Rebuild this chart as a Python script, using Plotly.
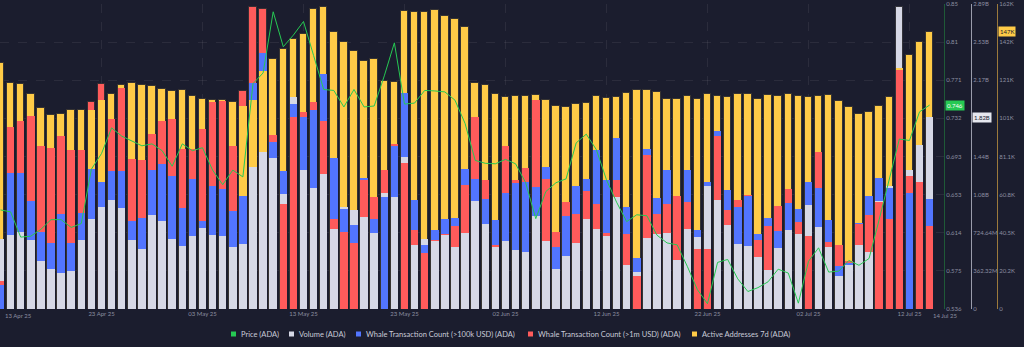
import pandas as pd
import numpy as np
import plotly.graph_objects as go

# ---------------- data ----------------
dates = pd.date_range("2025-04-13", "2025-07-14", freq="D")

price = [0.638, 0.636, 0.610, 0.611, 0.618, 0.628, 0.628, 0.620, 0.624, 0.680,
         0.696, 0.7225, 0.714, 0.709, 0.704, 0.706, 0.699, 0.683, 0.706, 0.699,
         0.702, 0.679, 0.664, 0.679, 0.672, 0.768, 0.779, 0.842, 0.806, 0.818,
         0.832, 0.797, 0.762, 0.761, 0.744, 0.762, 0.744, 0.745, 0.776, 0.810,
         0.747, 0.748, 0.761, 0.7605, 0.7595, 0.751, 0.727, 0.689, 0.686, 0.6855,
         0.690, 0.6855, 0.666, 0.629, 0.657, 0.666, 0.670, 0.707, 0.716, 0.700,
         0.669, 0.646, 0.626, 0.633, 0.632, 0.612, 0.604, 0.602, 0.580, 0.556,
         0.5415, 0.584, 0.587, 0.567, 0.554, 0.558, 0.564, 0.577, 0.573, 0.542,
         0.585, 0.599, 0.574, 0.575, 0.586, 0.581, 0.588, 0.628, 0.669, 0.711,
         0.7095, 0.739, 0.746]

volume_m = [664, 701, 730, 658, 458, 383, 342, 365, 658, 858,
            974, 1035, 959, 658, 574, 896, 838, 664, 600, 690,
            774, 701, 696, 591, 615, 1348, 1493, 1435, 1096, 2012,
            1322, 1148, 1284, 762, 974, 942, 870, 719, 1107, 1061,
            1443, 606, 667, 649, 704, 594, 722, 1029, 809, 594,
            643, 562, 539, 887, 643, 383, 499, 623, 855, 762,
            696, 1061, 414, 348, 675, 716, 722, 468, 759, 684,
            1171, 1038, 797, 620, 600, 493, 368, 583, 748, 716,
            991, 780, 588, 316, 414, 606, 542, 1023, 1171, 2873,
            1325, 1559, 1820]

active_k = [130.7, 120.0, 119.5, 114.3, 106.9, 103.0, 103.5, 105.6, 105.6, 105.9,
            111.2, 114.3, 119.2, 120.0, 119.0, 118.5, 117.1, 115.9, 116.3, 113.2,
            111.6, 111.2, 111.1, 110.3, 107.7, 111.2, 126.3, 133.0, 138.2, 143.3,
            146.1, 159.4, 160.7, 147.1, 141.7, 137.2, 132.0, 133.0, 121.3, 120.5,
            158.3, 157.8, 157.9, 158.8, 156.0, 154.4, 150.2, 120.0, 119.0, 114.5,
            112.7, 113.0, 113.4, 113.7, 111.2, 108.0, 107.3, 108.8, 109.6, 113.4,
            112.1, 112.7, 114.6, 116.3, 116.3, 115.6, 111.6, 111.9, 113.0, 111.7,
            114.3, 113.2, 112.5, 114.2, 114.2, 111.7, 113.8, 113.0, 114.5, 113.5,
            112.7, 113.2, 113.7, 110.6, 107.3, 103.6, 104.6, 107.8, 112.5, 128.1,
            134.8, 142.2, 147.4]

whale_100k = [156, 894, 894, 706, 504, 430, 620, 430, 628, 920,
              836, 902, 906, 578, 600, 914, 948, 874, 662, 852,
              574, 808, 786, 640, 738, 1480, 1682, 1098, 902, 1344,
              1258, 1306, 1542, 992, 656, 548, 860, 592, 732, 1066,
              1416, 716, 422, 520, 592, 596, 920, 854, 722, 586,
              762, 826, 830, 802, 930, 406, 612, 808, 854, 1040,
              848, 1120, 668, 336, 1046, 728, 914, 0, 912, 516,
              830, 1170, 782, 668, 742, 494, 596, 514, 692, 656,
              836, 796, 586, 284, 300, 566, 740, 856, 796, 0,
              760, 0, 720]

whale_1m = [28, 179, 185, 190, 160, 158, 170, 156, 156, 204,
            221, 187, 217, 148, 147, 172, 185, 187, 157, 157,
            177, 204, 205, 160, 214, 297, 295, 171, 103, 189,
            194, 204, 185, 89, 76, 65, 127, 110, 137, 162,
            144, 78, 55, 68, 74, 82, 122, 189, 127, 63,
            160, 127, 139, 206, 128, 76, 105, 93, 116, 103,
            75, 127, 74, 32, 151, 93, 103, 111, 105, 59,
            59, 170, 97, 107, 112, 68, 82, 101, 118, 86,
            72, 154, 66, 63, 47, 84, 92, 105, 89, 235,
            131, 125, 82]

price_ticktext = ["0.536", "0.575", "0.614", "0.653", "0.693", "0.732", "0.771", "0.81", "0.85"]
volume_ticktext = ["0", "362.32M", "724.64M", "1.08B", "1.44B", "1.81B", "2.17B", "2.53B", "2.89B"]
active_ticktext = ["0", "20.2K", "40.5K", "60.8K", "81.1K", "101K", "121K", "142K", "162K"]
x_tick_dates = ["2025-04-23", "2025-05-03", "2025-05-13", "2025-05-23", "2025-06-02",
                "2025-06-12", "2025-06-22", "2025-07-02", "2025-07-12"]
x_tick_text = ["23 Apr 25", "03 May 25", "13 May 25", "23 May 25", "02 Jun 25",
               "12 Jun 25", "22 Jun 25", "02 Jul 25", "12 Jul 25"]

legend_names = ["Price (ADA)", "Volume (ADA)", "Whale Transaction Count (>100k USD) (ADA)",
                "Whale Transaction Count (>1m USD) (ADA)", "Active Addresses 7d (ADA)"]

# axis scales
PRICE_MIN, PRICE_MAX = 0.536, 0.85
VOL_MAX_M = 2898.56
AA_MAX_K = 162.16
W100_MAX = 2000
W1M_MAX = 300

# ---------------- style ----------------
BG = "#1b1d2e"
GRID = "rgba(255,255,255,0.07)"
TICK = "#8b8ea0"
C_GREEN = "#26c953"
C_GRAY = "#d6d8e6"
C_BLUE = "#5275ff"
C_RED = "#ff5b5b"
C_YELLOW = "#ffcb47"
FONT = "Lato"

W_PLOT = 944
FULL_W = 1024

fig = go.Figure()

# overlapping bars: on each day the tallest (relative to its own scale) is drawn behind
series = [
    ([v / VOL_MAX_M for v in volume_m], C_GRAY),
    ([v / W100_MAX for v in whale_100k], C_BLUE),
    ([v / W1M_MAX for v in whale_1m], C_RED),
    ([v / AA_MAX_K for v in active_k], C_YELLOW),
]
n = len(dates)
rank_h = [[0.0] * n for _ in range(4)]
rank_c = [[None] * n for _ in range(4)]
for i in range(n):
    items = sorted([(s[0][i], s[1]) for s in series], key=lambda t: -t[0])
    for r, (h, c) in enumerate(items):
        rank_h[r][i] = h
        rank_c[r][i] = c

bar_w = 0.745 * 86400000
for r in range(4):
    fig.add_trace(go.Bar(
        x=dates, y=rank_h[r], width=bar_w,
        marker=dict(color=rank_c[r],
                    line=dict(color="rgba(45,45,50,0.9)", width=1 if r == 0 else 0)),
        yaxis="y", showlegend=False, hoverinfo="skip"))

fig.add_trace(go.Scatter(x=dates, y=price, mode="lines", yaxis="y2",
                         line=dict(color=C_GREEN, width=1), showlegend=False, hoverinfo="skip"))
fig.add_trace(go.Scatter(x=dates, y=[v * 1e6 for v in volume_m], mode="lines", yaxis="y3",
                         line=dict(width=0), opacity=0, showlegend=False, hoverinfo="skip"))
fig.add_trace(go.Scatter(x=dates, y=[v * 1e3 for v in active_k], mode="lines", yaxis="y4",
                         line=dict(width=0), opacity=0, showlegend=False, hoverinfo="skip"))

day = pd.Timedelta(days=1)
x0 = dates[0] - 0.05 * day
x1 = dates[0] + 93.42 * day

tickfont = dict(family=FONT, size=6, color=TICK)
common_y = dict(overlaying="y", side="right", showgrid=False, zeroline=False,
                showline=True, linewidth=1, ticks="", tickfont=tickfont, fixedrange=True)

fig.update_layout(
    width=FULL_W, height=347,
    margin=dict(l=0, r=0, t=4, b=38),
    paper_bgcolor=BG, plot_bgcolor=BG,
    barmode="overlay", bargap=0,
    showlegend=False,
    font=dict(family=FONT, color=TICK),
    xaxis=dict(domain=[0, W_PLOT / FULL_W], type="date",
               range=[x0.isoformat(), x1.isoformat()],
               tickvals=x_tick_dates, ticktext=x_tick_text,
               showgrid=True, gridcolor=GRID, griddash="dash", gridwidth=1,
               zeroline=False, showline=False, ticks="", tickfont=tickfont),
    yaxis=dict(range=[0, 1], tickvals=list(np.linspace(0, 1, 9)), showticklabels=False,
               showgrid=True, gridcolor=GRID, griddash="dash", zeroline=False,
               showline=False, fixedrange=True),
    yaxis2=dict(range=[PRICE_MIN, PRICE_MAX], anchor="x",
                tickvals=list(np.linspace(PRICE_MIN, PRICE_MAX, 9)), ticktext=price_ticktext,
                linecolor="#1f5a37", **common_y),
    yaxis3=dict(range=[0, VOL_MAX_M * 1e6], anchor="free", position=971 / FULL_W,
                tickvals=list(np.linspace(0, VOL_MAX_M * 1e6, 9)), ticktext=volume_ticktext,
                linecolor="#9a9cab", **common_y),
    yaxis4=dict(range=[0, AA_MAX_K * 1e3], anchor="free", position=997 / FULL_W,
                tickvals=list(np.linspace(0, AA_MAX_K * 1e3, 9)), ticktext=active_ticktext,
                linecolor="#9c7a3c", **common_y),
)

# edge date labels
for d, txt, shift in [(dates[0], "13 Apr 25", 2), (dates[-1], "14 Jul 25", 1)]:
    fig.add_annotation(x=d, xref="x", y=-6 / 305, yref="paper", text=txt,
                       xanchor="left", yanchor="middle", xshift=shift, showarrow=False,
                       font=tickfont)

# last-value labels
fig.add_annotation(x=W_PLOT / FULL_W, xref="paper", y=price[-1], yref="y2",
                   text=f"{price[-1]:.3f}", xanchor="left", yanchor="middle", xshift=1,
                   showarrow=False, bgcolor=C_GREEN, borderpad=1,
                   font=dict(family=FONT, size=6, color="#ffffff"))
fig.add_annotation(x=971 / FULL_W, xref="paper", y=volume_m[-1] * 1e6, yref="y3",
                   text=f"{volume_m[-1] / 1000:.2f}B", xanchor="left", yanchor="middle", xshift=1,
                   showarrow=False, bgcolor="#e6e7ef", borderpad=1,
                   font=dict(family=FONT, size=6, color="#1b1d2e"))
fig.add_annotation(x=997 / FULL_W, xref="paper", y=active_k[-1] * 1e3, yref="y4",
                   text=f"{active_k[-1]:.0f}K", xanchor="left", yanchor="middle", xshift=1,
                   showarrow=False, bgcolor=C_YELLOW, borderpad=1,
                   font=dict(family=FONT, size=6, color="#1b1d2e"))

# custom legend
leg_colors = [C_GREEN, C_GRAY, C_BLUE, C_RED, C_YELLOW]
leg_sq_x = [231, 289, 356, 528, 692]
leg_y = -(334 - 309) / 305
sq = 5
for name, col, sx in zip(legend_names, leg_colors, leg_sq_x):
    fig.add_shape(type="rect", xref="paper", yref="paper",
                  x0=sx / FULL_W, x1=(sx + sq) / FULL_W,
                  y0=leg_y - (sq / 2) / 305, y1=leg_y + (sq / 2) / 305,
                  fillcolor=col, line=dict(width=0))
    fig.add_annotation(x=(sx + sq + 3) / FULL_W, xref="paper", y=leg_y, yref="paper",
                       text=name, xanchor="left", yanchor="middle", showarrow=False,
                       font=dict(family=FONT, size=7.5, color="#c9cbd8"))

fig.write_html("out.html")
